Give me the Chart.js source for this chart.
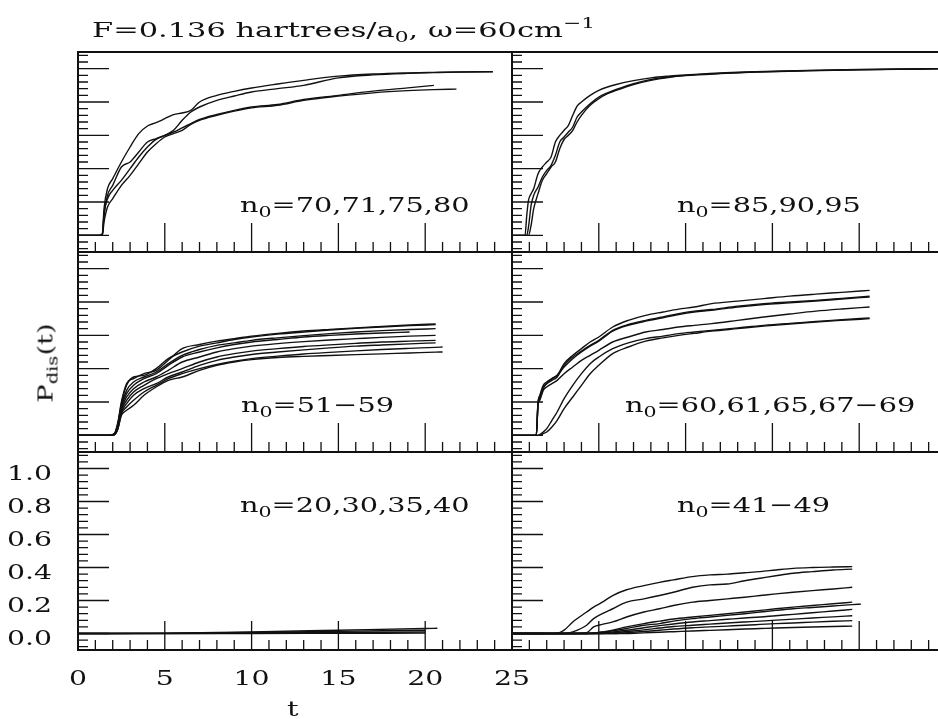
<!DOCTYPE html>
<html>
<head>
<meta charset="utf-8">
<script src="https://cdn.jsdelivr.net/npm/chart.js@4.4.0/dist/chart.umd.min.js"></script>
<style>
  html, body { margin: 0; padding: 0; background: #fff; overflow: hidden; width: 938px; height: 719px; }
  #wrap { position: relative; width: 960px; height: 719px; }
  canvas { position: absolute; left: 0; top: 0; }
  .lbl { position: absolute; font-family: "DejaVu Serif", serif; font-size: 21px; line-height: 21px;
         color: #111; white-space: nowrap; transform-origin: 0 0; transform: scaleX(1.37); }
  .lbl sub { font-size: 15px; vertical-align: -5px; line-height: 0; }
  .lbl sup { font-size: 15px; vertical-align: 9px; line-height: 0; }
  #title { transform: scaleX(1.45); }
  #ylab { transform-origin: 50% 50%; transform: translate(-50%, -50%) rotate(-90deg) scaleX(1.3); }
</style>
</head>
<body>
<div id="wrap">
  <canvas id="c-tl" width="960" height="719"></canvas>
  <canvas id="c-tr" width="960" height="719"></canvas>
  <canvas id="c-ml" width="960" height="719"></canvas>
  <canvas id="c-mr" width="960" height="719"></canvas>
  <canvas id="c-bl" width="960" height="719"></canvas>
  <canvas id="c-br" width="960" height="719"></canvas>

  <div class="lbl" id="title" style="left:92px; top:20px;">F=0.136 hartrees/a<sub>0</sub>, &omega;=60cm<sup>&minus;1</sup></div>
  <div class="lbl" style="left:240px; top:195px;">n<sub>0</sub>=70,71,75,80</div>
  <div class="lbl" style="left:677px; top:195px;">n<sub>0</sub>=85,90,95</div>
  <div class="lbl" style="left:241px; top:395px;">n<sub>0</sub>=51&minus;59</div>
  <div class="lbl" style="left:625px; top:395px;">n<sub>0</sub>=60,61,65,67&minus;69</div>
  <div class="lbl" style="left:240px; top:495px;">n<sub>0</sub>=20,30,35,40</div>
  <div class="lbl" style="left:677px; top:495px;">n<sub>0</sub>=41&minus;49</div>
  <div class="lbl" style="left:287px; top:699px;">t</div>
  <div class="lbl" id="ylab" style="left:46px; top:363px;">P<sub>dis</sub>(t)</div>
</div>

<script>
// tick labels (only drawn on the bottom-left panel)
const xTickValues = [0, 5, 10, 15, 20, 25];
const xTickLabels = ['0', '5', '10', '15', '20', '25'];
const yTickValues = [0, 0.2, 0.4, 0.6, 0.8, 1.0];
const yTickLabels = ['0.0', '0.2', '0.4', '0.6', '0.8', '1.0'];

// top left : n0=70,71,75,80
const tTL = [0, 1.2, 1.4, 1.5, 1.7, 2.0, 2.5, 3.0, 3.5, 4.0, 4.5, 5.0, 5.5, 6.0, 6.5, 7.0, 8.0, 9.0, 10, 11.5, 13, 15, 17, 19, 20.5, 21.8, 23.9];
const tl1 = [0, 0, 0.01, 0.16, 0.28, 0.34, 0.44, 0.53, 0.61, 0.656, 0.676, 0.70, 0.724, 0.734, 0.75, 0.80, 0.84, 0.864, 0.884, 0.908, 0.93, 0.955, 0.968, 0.975, 0.978, 0.98, 0.982];
const tl2 = [0, 0, 0, 0.13, 0.22, 0.27, 0.33, 0.40, 0.47, 0.53, 0.576, 0.60, 0.63, 0.69, 0.74, 0.77, 0.81, 0.836, 0.86, 0.88, 0.9, 0.945, 0.963, 0.972, 0.976, 0.979, 0.981];
const tl3 = [0, 0, 0, 0.12, 0.24, 0.30, 0.41, 0.44, 0.50, 0.56, 0.58, 0.60, 0.62, 0.645, 0.67, 0.695, 0.725, 0.75, 0.77, 0.785, 0.815, 0.84, 0.865, 0.885, 0.90, null, null];
const tl4 = [0, 0, 0, 0.08, 0.17, 0.22, 0.30, 0.36, 0.43, 0.50, 0.55, 0.59, 0.61, 0.63, 0.665, 0.69, 0.72, 0.745, 0.765, 0.78, 0.81, 0.835, 0.855, 0.868, 0.874, 0.877, null];

// top right : n0=85,90,95
const tTR = [0, 0.75, 0.85, 0.95, 1.1, 1.25, 1.5, 1.75, 2.0, 2.25, 2.5, 2.75, 3.0, 3.25, 3.5, 3.75, 4.0, 4.5, 5.0, 5.5, 6.0, 7.0, 8.0, 9.0, 10, 12, 14, 17, 20, 25];
const tr1 = [0, 0, 0.12, 0.21, 0.25, 0.28, 0.37, 0.41, 0.44, 0.47, 0.56, 0.60, 0.63, 0.66, 0.72, 0.775, 0.80, 0.84, 0.87, 0.89, 0.905, 0.928, 0.945, 0.955, 0.962, 0.975, 0.982, 0.99, 0.995, 1.0];
const tr2 = [0, 0, 0, 0.05, 0.18, 0.24, 0.29, 0.35, 0.39, 0.42, 0.48, 0.56, 0.59, 0.62, 0.65, 0.71, 0.74, 0.79, 0.83, 0.855, 0.875, 0.91, 0.935, 0.95, 0.96, 0.972, 0.98, 0.988, 0.994, 1.0];
const tr3 = [0, 0, 0, 0, 0.06, 0.16, 0.25, 0.33, 0.37, 0.41, 0.44, 0.52, 0.575, 0.60, 0.63, 0.68, 0.72, 0.78, 0.82, 0.85, 0.87, 0.905, 0.93, 0.947, 0.958, 0.97, 0.979, 0.987, 0.993, 1.0];

// middle left : n0=51-59
const tML = [0, 1.8, 2.1, 2.3, 2.5, 2.8, 3.2, 3.8, 4.5, 5.2, 6, 7, 8, 9, 10, 11.5, 13, 14.5, 16, 17.5, 19.1, 20.6, 21.0];
const ml1 = [0, 0, 0.01, 0.08, 0.20, 0.31, 0.34, 0.37, 0.39, 0.45, 0.52, 0.545, 0.565, 0.58, 0.595, 0.612, 0.626, 0.636, 0.645, 0.654, 0.662, 0.668, null];
const ml2 = [0, 0, 0.01, 0.07, 0.19, 0.30, 0.35, 0.36, 0.40, 0.46, 0.50, 0.535, 0.555, 0.575, 0.59, 0.607, 0.62, 0.632, 0.642, 0.65, 0.658, 0.664, null];
const ml3 = [0, 0, 0.01, 0.07, 0.18, 0.27, 0.32, 0.35, 0.38, 0.43, 0.48, 0.515, 0.54, 0.555, 0.57, 0.585, 0.598, 0.61, 0.62, 0.628, 0.635, 0.64, null];
const ml4 = [0, 0, 0.01, 0.06, 0.17, 0.25, 0.30, 0.34, 0.37, 0.42, 0.47, 0.50, 0.525, 0.545, 0.56, 0.575, 0.59, 0.60, 0.608, 0.614, 0.62, null, null];
const ml5 = [0, 0, 0.01, 0.06, 0.16, 0.23, 0.28, 0.32, 0.35, 0.39, 0.44, 0.47, 0.50, 0.52, 0.535, 0.55, 0.562, 0.572, 0.58, 0.588, 0.595, 0.60, null];
const ml6 = [0, 0, 0.005, 0.05, 0.15, 0.21, 0.26, 0.30, 0.34, 0.37, 0.40, 0.44, 0.47, 0.49, 0.505, 0.52, 0.533, 0.543, 0.552, 0.56, 0.565, 0.57, null];
const ml7 = [0, 0, 0.005, 0.05, 0.14, 0.19, 0.24, 0.28, 0.31, 0.35, 0.38, 0.42, 0.45, 0.47, 0.485, 0.50, 0.513, 0.525, 0.535, 0.542, 0.549, 0.555, null];
const ml8 = [0, 0, 0.005, 0.04, 0.13, 0.17, 0.21, 0.26, 0.30, 0.34, 0.37, 0.40, 0.425, 0.445, 0.46, 0.475, 0.488, 0.498, 0.507, 0.515, 0.522, 0.528, 0.53];
const ml9 = [0, 0, 0.005, 0.04, 0.12, 0.15, 0.18, 0.24, 0.29, 0.33, 0.35, 0.39, 0.42, 0.44, 0.454, 0.467, 0.474, 0.479, 0.484, 0.489, 0.494, 0.499, 0.50];

// middle right : n0=60,61,65,67-69
const tMR = [0, 1.4, 1.5, 1.6, 1.8, 2.0, 2.3, 2.6, 3.0, 3.5, 4.0, 4.5, 5.0, 5.8, 6.7, 7.7, 8.7, 9.6, 10.5, 11.5, 13, 14.5, 16, 17.5, 19, 20.6];
const mr1 = [0, 0, 0.20, 0.24, 0.30, 0.32, 0.34, 0.36, 0.43, 0.48, 0.52, 0.56, 0.59, 0.65, 0.69, 0.72, 0.74, 0.757, 0.77, 0.79, 0.805, 0.82, 0.835, 0.847, 0.858, 0.87];
const mr2 = [0, 0, 0.20, 0.23, 0.29, 0.31, 0.33, 0.35, 0.42, 0.47, 0.505, 0.54, 0.57, 0.63, 0.665, 0.69, 0.71, 0.73, 0.745, 0.755, 0.775, 0.79, 0.80, 0.81, 0.822, 0.835];
const mr3 = [0, 0, 0.19, 0.22, 0.28, 0.31, 0.34, 0.36, 0.41, 0.46, 0.50, 0.535, 0.565, 0.625, 0.66, 0.685, 0.705, 0.725, 0.74, 0.75, 0.77, 0.785, 0.795, 0.806, 0.818, 0.83];
const mr4 = [0, 0, 0.18, 0.21, 0.27, 0.29, 0.31, 0.33, 0.37, 0.41, 0.45, 0.48, 0.51, 0.56, 0.59, 0.62, 0.635, 0.65, 0.66, 0.67, 0.69, 0.71, 0.728, 0.745, 0.758, 0.77];
const mr5 = [0, 0, 0, 0.005, 0.02, 0.04, 0.09, 0.14, 0.22, 0.30, 0.37, 0.43, 0.47, 0.52, 0.555, 0.58, 0.595, 0.61, 0.62, 0.63, 0.645, 0.66, 0.672, 0.683, 0.694, 0.705];
const mr6 = [0, 0, 0, 0, 0.01, 0.02, 0.05, 0.09, 0.16, 0.23, 0.30, 0.37, 0.42, 0.49, 0.53, 0.565, 0.585, 0.60, 0.612, 0.625, 0.64, 0.655, 0.668, 0.68, 0.69, 0.70];

// bottom left : n0=20,30,35,40
const tBL = [0, 5, 10, 15, 20, 20.7];
const bl1 = [0, 0.002, 0.01, 0.02, 0.03, 0.032];
const bl2 = [0, 0.001, 0.006, 0.013, 0.02, null];
const bl3 = [0, 0, 0.003, 0.006, 0.009, null];
const bl4 = [0, 0, 0, 0.001, 0.002, null];

// bottom right : n0=41-49
const tBR = [0, 2.5, 3.0, 3.5, 4.3, 4.7, 5.2, 5.8, 6.6, 7.6, 8.5, 9.3, 10.4, 11.4, 12.4, 13.4, 14.3, 15.2, 16.2, 17.3, 18.5, 19.6, 20.1];
const br1 = [0, 0, 0.02, 0.07, 0.13, 0.16, 0.19, 0.23, 0.265, 0.29, 0.31, 0.325, 0.345, 0.355, 0.36, 0.368, 0.375, 0.385, 0.395, 0.40, 0.403, 0.405, null];
const br2 = [0, 0, 0, 0.01, 0.05, 0.09, 0.12, 0.15, 0.19, 0.21, 0.23, 0.25, 0.28, 0.295, 0.30, 0.32, 0.335, 0.35, 0.365, 0.375, 0.385, 0.39, null];
const br3 = [0, 0, 0, 0, 0.005, 0.04, 0.055, 0.07, 0.10, 0.13, 0.15, 0.17, 0.19, 0.20, 0.21, 0.22, 0.23, 0.24, 0.25, 0.26, 0.27, 0.28, null];
const br4 = [0, 0, 0, 0, 0, 0.003, 0.01, 0.02, 0.04, 0.06, 0.075, 0.088, 0.10, 0.11, 0.12, 0.13, 0.14, 0.15, 0.16, 0.17, 0.18, 0.19, null];
const br5 = [0, 0, 0, 0, 0, 0.002, 0.008, 0.016, 0.03, 0.05, 0.06, 0.075, 0.09, 0.10, 0.11, 0.12, 0.13, 0.14, 0.15, 0.158, 0.167, 0.175, 0.178];
const br6 = [0, 0, 0, 0, 0, 0, 0.003, 0.01, 0.02, 0.035, 0.048, 0.058, 0.07, 0.078, 0.086, 0.094, 0.10, 0.108, 0.116, 0.126, 0.136, 0.146, null];
const br7 = [0, 0, 0, 0, 0, 0, 0, 0.004, 0.012, 0.022, 0.033, 0.042, 0.05, 0.057, 0.064, 0.07, 0.075, 0.081, 0.087, 0.094, 0.101, 0.108, null];
const br8 = [0, 0, 0, 0, 0, 0, 0, 0, 0.005, 0.012, 0.02, 0.027, 0.035, 0.04, 0.045, 0.05, 0.055, 0.06, 0.064, 0.069, 0.074, 0.078, null];
const br9 = [0, 0, 0, 0, 0, 0, 0, 0, 0, 0.004, 0.008, 0.011, 0.015, 0.019, 0.023, 0.027, 0.03, 0.033, 0.036, 0.039, 0.042, 0.045, null];

// page layout (pixels)
const CW = 960, CH = 719;
const panelCols = [[78, 512], [512, 946]];
const panelRows = [[52, 252], [252, 452], [452, 650]];

function drawStretched(ctx, text, x, y, align) {
  ctx.save();
  ctx.translate(x, y);
  ctx.scale(1.35, 1);
  ctx.textAlign = align;
  ctx.fillText(text, 0, 0);
  ctx.restore();
}

// frame + inward ticks like the original plot
const framePlugin = {
  id: 'frame',
  afterDatasetsDraw(chart, args, opts) {
    const { ctx, chartArea: a } = chart;
    const x = chart.scales.x, y = chart.scales.y;
    ctx.save();
    ctx.strokeStyle = '#111';
    ctx.lineWidth = 2;
    ctx.strokeRect(a.left, a.top, a.right - a.left, a.bottom - a.top);

    ctx.lineWidth = 1.3;
    ctx.beginPath();
    for (let v = 0; v <= 25; v++) {
      const px = x.getPixelForValue(v);
      const len = v % 5 === 0 ? 29 : 10;
      ctx.moveTo(px, a.bottom);
      ctx.lineTo(px, a.bottom - len);
    }
    for (let k = -2; k <= 27; k++) {
      const py = y.getPixelForValue(k * 0.04);
      const len = k % 5 === 0 ? 31 : 10;
      ctx.moveTo(a.left, py);
      ctx.lineTo(a.left + len, py);
    }
    ctx.stroke();

    if (opts.tickLabels) {
      ctx.fillStyle = '#111';
      ctx.font = '21px "DejaVu Serif"';
      ctx.textBaseline = 'alphabetic';
      xTickValues.forEach((v, i) => {
        drawStretched(ctx, xTickLabels[i], x.getPixelForValue(v), a.bottom + 35, 'center');
      });
      yTickValues.forEach((v, i) => {
        drawStretched(ctx, yTickLabels[i], a.left - 26, y.getPixelForValue(v) + 11, 'right');
      });
    }
    ctx.restore();
  }
};

function makeSets(t, series) {
  return series.map(vals => ({
    data: t.map((tv, i) => ({ x: tv, y: vals[i] })).filter(p => p.y !== null),
    borderColor: '#111',
    borderWidth: 1.4,
    pointRadius: 0,
    fill: false,
    cubicInterpolationMode: 'monotone'
  }));
}

function makePanel(canvasId, col, row, t, series, showLabels) {
  const [l, r] = panelCols[col];
  const [top, bottom] = panelRows[row];
  return new Chart(document.getElementById(canvasId), {
    type: 'line',
    data: { datasets: makeSets(t, series) },
    options: {
      responsive: false,
      animation: false,
      events: [],
      layout: { padding: { left: l, right: CW - r, top: top, bottom: CH - bottom } },
      scales: {
        x: { type: 'linear', min: 0, max: 25, display: false },
        y: { type: 'linear', min: -0.1, max: 1.1, display: false }
      },
      plugins: {
        legend: { display: false },
        tooltip: { enabled: false },
        frame: { tickLabels: showLabels }
      }
    },
    plugins: [framePlugin]
  });
}

makePanel('c-tl', 0, 0, tTL, [tl1, tl2, tl3, tl4], false);
makePanel('c-tr', 1, 0, tTR, [tr1, tr2, tr3], false);
makePanel('c-ml', 0, 1, tML, [ml1, ml2, ml3, ml4, ml5, ml6, ml7, ml8, ml9], false);
makePanel('c-mr', 1, 1, tMR, [mr1, mr2, mr3, mr4, mr5, mr6], false);
makePanel('c-bl', 0, 2, tBL, [bl1, bl2, bl3, bl4], true);
makePanel('c-br', 1, 2, tBR, [br1, br2, br3, br4, br5, br6, br7, br8, br9], false);
</script>
</body>
</html>
